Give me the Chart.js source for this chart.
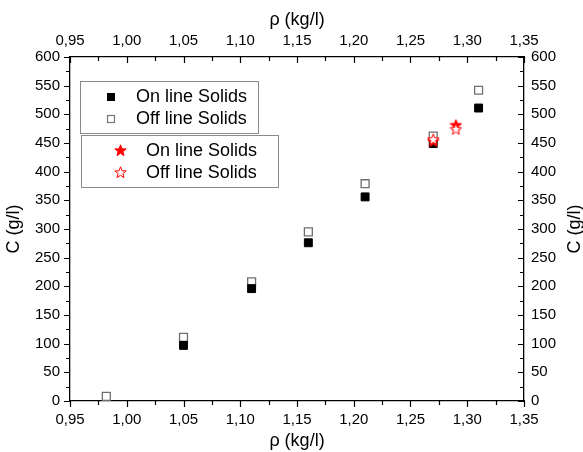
<!DOCTYPE html>
<html>
<head>
<meta charset="utf-8">
<script src="https://cdn.jsdelivr.net/npm/chart.js@4/dist/chart.umd.min.js"></script>
<style>
  html, body { margin: 0; padding: 0; background: #fff; }
  #wrap { width: 583px; height: 452px; position: relative; }
</style>
</head>
<body>
<div id="wrap"><canvas id="chart" width="583" height="452"></canvas></div>
<script>
// density values (kg/l) and concentrations (g/l)
const rhoSquares = [0.982, 1.05, 1.11, 1.16, 1.21, 1.27, 1.31];
const onLineSquares = [null, 97, 196, 276, 356, 449, 511];
const offLineSquares = [8, 111, 208, 295, 379, 462, 542];
const rhoStars = [1.27, 1.29];
const onLineStars = [453, 481];
const offLineStars = [456, 474];
const legendLabels = ["On line Solids", "Off line Solids"];

const FONT = "'Liberation Sans', Arial, sans-serif";

function makeStar(filled) {
  const c = document.createElement("canvas");
  c.width = 13;
  c.height = 13;
  const g = c.getContext("2d");
  const cx = 6.5, cy = 6.8, R = 6, r = 2.5;
  g.beginPath();
  for (let i = 0; i < 10; i++) {
    const rad = i % 2 === 0 ? R : r;
    const a = -Math.PI / 2 + i * Math.PI / 5;
    const px = cx + rad * Math.cos(a);
    const py = cy + rad * Math.sin(a);
    if (i === 0) g.moveTo(px, py); else g.lineTo(px, py);
  }
  g.closePath();
  g.fillStyle = filled ? "#ff0000" : "#ffffff";
  g.fill();
  g.strokeStyle = "#ff0000";
  g.lineWidth = 1;
  g.stroke();
  return c;
}
const starFilled = makeStar(true);
const starOpen = makeStar(false);

function pts(xs, ys) {
  const out = [];
  xs.forEach((x, i) => {
    if (ys[i] !== null) out.push({ x: x, y: ys[i] });
  });
  return out;
}

function comma(v) {
  return v.toFixed(2).replace(".", ",");
}

// minor/major ticks, titles, legend boxes
const decorPlugin = {
  id: "decor",
  afterDraw(chart) {
    const ctx = chart.ctx;
    const a = chart.chartArea;
    const xs = chart.scales.x, ys = chart.scales.y;
    ctx.save();
    ctx.strokeStyle = "#000";
    ctx.lineWidth = 1.2;
    ctx.beginPath();
    for (let k = 0; k <= 16; k++) {
      const v = 0.95 + k * 0.025;
      const px = Math.round(xs.getPixelForValue(v)) + 0.5;
      const len = k % 2 === 0 ? 6 : 4;
      ctx.moveTo(px, a.bottom);
      ctx.lineTo(px, a.bottom + len);
      ctx.moveTo(px, a.top);
      ctx.lineTo(px, a.top + len);
    }
    for (let k = 0; k <= 24; k++) {
      const v = k * 25;
      const py = Math.round(ys.getPixelForValue(v)) + 0.5;
      const len = k % 2 === 0 ? 6 : 4;
      ctx.moveTo(a.left, py);
      ctx.lineTo(a.left - len, py);
      ctx.moveTo(a.right, py);
      ctx.lineTo(a.right - len, py);
    }
    ctx.stroke();

    // axis titles
    ctx.fillStyle = "#000";
    ctx.font = "18px " + FONT;
    ctx.textAlign = "center";
    ctx.textBaseline = "middle";
    const midX = (a.left + a.right) / 2;
    const midY = (a.top + a.bottom) / 2;
    ctx.fillText("ρ (kg/l)", midX, 20);
    ctx.fillText("ρ (kg/l)", midX, 441);
    [14, 575].forEach((tx) => {
      ctx.save();
      ctx.translate(tx, midY);
      ctx.rotate(-Math.PI / 2);
      ctx.fillText("C (g/l)", 0, 0);
      ctx.restore();
    });

    // legend boxes
    ctx.strokeStyle = "#8a8a8a";
    ctx.lineWidth = 1;
    ctx.strokeRect(80.5, 81.5, 178, 52);
    ctx.strokeRect(81.5, 135.5, 197, 52);

    ctx.fillStyle = "#000";
    ctx.fillRect(107, 93, 8, 8);
    ctx.fillStyle = "#fff";
    ctx.fillRect(107, 115, 8, 8);
    ctx.strokeStyle = "#777";
    ctx.lineWidth = 1.2;
    ctx.strokeRect(107.5, 115.5, 7, 7);
    ctx.drawImage(starFilled, 114, 144);
    ctx.drawImage(starOpen, 114, 166);

    ctx.fillStyle = "#000";
    ctx.font = "18px " + FONT;
    ctx.textAlign = "left";
    ctx.fillText(legendLabels[0], 136, 97);
    ctx.fillText(legendLabels[1], 136, 119);
    ctx.fillText(legendLabels[0], 146, 151);
    ctx.fillText(legendLabels[1], 146, 173);
    ctx.restore();
  }
};

const tickFont = { family: FONT, size: 15 };

new Chart(document.getElementById("chart"), {
  type: "scatter",
  data: {
    datasets: [
      {
        label: legendLabels[1],
        data: pts(rhoSquares, offLineSquares),
        pointStyle: "rect",
        pointRadius: 5.6,
        backgroundColor: "#ffffff",
        borderColor: "#6e6e6e",
        borderWidth: 1.3,
        order: 4
      },
      {
        label: legendLabels[0],
        data: pts(rhoSquares, onLineSquares),
        pointStyle: "rect",
        pointRadius: 5.6,
        backgroundColor: "#000000",
        borderColor: "#000000",
        borderWidth: 1,
        order: 3
      },
      {
        label: legendLabels[0],
        data: pts(rhoStars, onLineStars),
        pointStyle: starFilled,
        order: 2
      },
      {
        label: legendLabels[1],
        data: pts(rhoStars, offLineStars),
        pointStyle: starOpen,
        order: 1
      }
    ]
  },
  options: {
    responsive: false,
    animation: false,
    events: [],
    layout: { padding: 0 },
    plugins: { legend: { display: false }, tooltip: { enabled: false } },
    scales: {
      x: {
        type: "linear",
        position: "bottom",
        min: 0.95,
        max: 1.35,
        grid: { display: false, drawTicks: false },
        border: { display: true, color: "#000", width: 1.3 },
        ticks: { stepSize: 0.05, padding: 10, color: "#000", font: tickFont, maxRotation: 0, callback: (v) => comma(v) },
        afterFit: (s) => { s.height = 51; }
      },
      x2: {
        type: "linear",
        position: "top",
        display: true,
        min: 0.95,
        max: 1.35,
        grid: { display: false, drawTicks: false },
        border: { display: true, color: "#000", width: 1.3 },
        ticks: { stepSize: 0.05, padding: 7, color: "#000", font: tickFont, maxRotation: 0, callback: (v) => comma(v) },
        afterFit: (s) => { s.height = 57; }
      },
      y: {
        type: "linear",
        position: "left",
        min: 0,
        max: 600,
        grid: { display: false, drawTicks: false },
        border: { display: true, color: "#000", width: 1.3 },
        ticks: { stepSize: 50, padding: 10, color: "#000", font: tickFont },
        afterFit: (s) => { s.width = 70; }
      },
      y2: {
        type: "linear",
        position: "right",
        display: true,
        min: 0,
        max: 600,
        grid: { display: false, drawTicks: false },
        border: { display: true, color: "#000", width: 1.3 },
        ticks: { stepSize: 50, padding: 7, color: "#000", font: tickFont },
        afterFit: (s) => { s.width = 59; }
      }
    }
  },
  plugins: [decorPlugin]
});
</script>
</body>
</html>
